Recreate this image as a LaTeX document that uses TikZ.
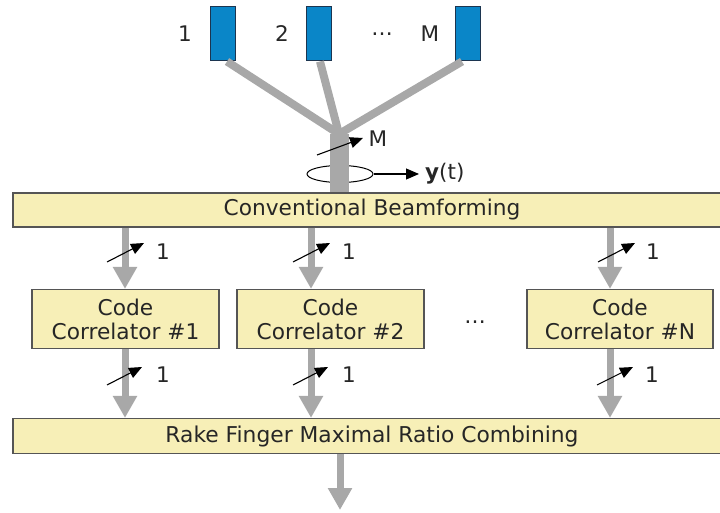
\documentclass[tikz,border=0pt]{standalone}
\usepackage{fontspec}
\setmainfont{DejaVu Sans}
\usetikzlibrary{arrows.meta,shapes.geometric}
\definecolor{boxfill}{HTML}{F7EFB7}
\definecolor{boxline}{HTML}{555555}
\definecolor{pipe}{HTML}{A8A8A8}
\definecolor{antblue}{HTML}{0A86C8}
\definecolor{antline}{HTML}{1C3550}
\begin{document}
\begin{tikzpicture}[x=1pt,y=-1pt,
  lbl/.style={font=\fontsize{21.5}{25}\selectfont, text=black!85, inner sep=0pt},
  block/.style={draw=boxline, fill=boxfill, line width=1.2pt, inner sep=0pt,
    font=\fontsize{21.7}{24}\selectfont, text=black!85, align=center},
  antenna/.style={draw=antline, fill=antblue, line width=1pt, minimum width=25pt,
    minimum height=54pt, inner sep=0pt},
  feed/.style={draw=pipe, line width=8pt},
  flow/.style={draw=pipe, line width=7pt, -{Triangle[length=22pt,width=23pt]}},
  width mark/.style={draw=black, line width=1.1pt, -{Triangle[length=13pt,width=11pt]}},
]
\useasboundingbox (0,0) rectangle (720,513);

% antenna elements
\node[antenna] (ant1) at (222.5,34) {};
\node[antenna] (ant2) at (318.5,34) {};
\node[antenna] (antM) at (468,34) {};
\node[lbl] (n1) at (185,34) {1};
\node[lbl] (n2) at (282,34) {2};
\node[lbl] (ndots) at (382,34) {\ldots};
\node[lbl] (nM) at (430,34) {M};

% feed lines joining at the combiner point
\coordinate (j) at (339,134);
\draw[feed] (ant1.south -| 227,0) -- (j);
\draw[feed] (ant2.south -| 320,0) -- (j);
\draw[feed] (antM.south -| 462,0) -- (j);

% main blocks (the wide bars run past the right edge)
\node[block, minimum width=718pt, minimum height=34pt] (cb) at (372,210) {Conventional Beamforming};
\node[block, minimum width=187pt, minimum height=59pt] (c1) at (125.5,319) {Code\\Correlator \#1};
\node[block, minimum width=187pt, minimum height=59pt] (c2) at (330.5,319) {Code\\Correlator \#2};
\node[block, minimum width=186pt, minimum height=59pt] (cN) at (620,319) {Code\\Correlator \#N};
\node[lbl] (cdots) at (475,322) {\ldots};
\node[block, minimum width=718pt, minimum height=35pt, font=\fontsize{21.8}{24}\selectfont] (rk) at (372,436) {Rake Finger Maximal Ratio Combining};

% bus of M signals with ellipse and output y(t)
\node[draw=black, line width=1pt, ellipse, minimum width=66pt, minimum height=17pt, inner sep=0pt] (bus) at (340,174) {};
\draw[draw=pipe, line width=19pt] (339.5,134) -- (cb.north -| 339.5,0);
\coordinate (mA) at (317,155);
\coordinate (mB) at (363,138);
\draw[width mark] (mA) -- (mB);
\node[lbl] (mlab) at (378,139) {M};
\coordinate (yend) at (419,174);
\draw[width mark] (bus.east) -- (yend);
\node[lbl, anchor=west] (ylab) at (425,174) {\textbf{y}(t)};

% branch positions
\coordinate (x1) at (125,0);
\coordinate (x2) at (311,0);
\coordinate (x3) at (610,0);

% beamformer to correlators
\draw[flow] (cb.south -| x1) -- (c1.north -| x1);
\draw[flow] (cb.south -| x2) -- (c2.north -| x2);
\draw[flow] (cb.south -| x3) -- (cN.north -| x3);
\coordinate (u1a) at (107,262); \coordinate (u1b) at (144,243);
\coordinate (u2a) at (293,262); \coordinate (u2b) at (330,243);
\coordinate (u3a) at (598,262); \coordinate (u3b) at (635,243);
\draw[width mark] (u1a) -- (u1b);
\draw[width mark] (u2a) -- (u2b);
\draw[width mark] (u3a) -- (u3b);
\node[lbl] (u1l) at (163,252) {1};
\node[lbl] (u2l) at (349,252) {1};
\node[lbl] (u3l) at (653,252) {1};

% correlators to rake combiner
\draw[flow] (c1.south -| x1) -- (rk.north -| x1);
\draw[flow] (c2.south -| x2) -- (rk.north -| x2);
\draw[flow] (cN.south -| x3) -- (rk.north -| x3);
\coordinate (l1a) at (107,385); \coordinate (l1b) at (142,367);
\coordinate (l2a) at (293,385); \coordinate (l2b) at (328,367);
\coordinate (l3a) at (597,385); \coordinate (l3b) at (633,367);
\draw[width mark] (l1a) -- (l1b);
\draw[width mark] (l2a) -- (l2b);
\draw[width mark] (l3a) -- (l3b);
\node[lbl] (l1l) at (163,375) {1};
\node[lbl] (l2l) at (349,375) {1};
\node[lbl] (l3l) at (652,375) {1};

% combiner output
\coordinate (out) at (340,510);
\draw[flow] (rk.south -| out) -- (out);
\end{tikzpicture}
\end{document}
